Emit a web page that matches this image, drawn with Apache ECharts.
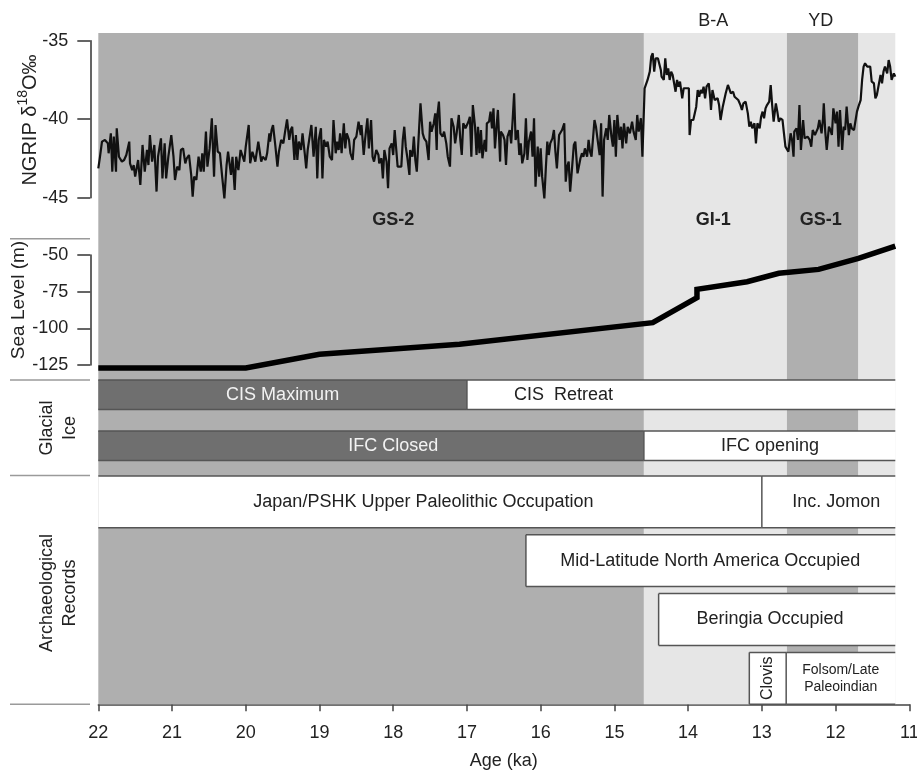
<!DOCTYPE html>
<html>
<head>
<meta charset="utf-8">
<script src="https://cdn.jsdelivr.net/npm/echarts@6.0.0/dist/echarts.min.js"></script>
<style>
  html, body { margin: 0; padding: 0; background: #fff; }
  #main { width: 917px; height: 773px; }
</style>
</head>
<body>
<div id="main"></div>
<script>
// NGRIP d18O record, [age ka, permil]
var ngrip = [
  [22.00,-43.13],[21.98,-42.49],[21.95,-41.43],[21.91,-41.32],[21.87,-41.54],[21.86,-42.17],[21.83,-40.90],[21.81,-43.34],[21.79,-41.11],[21.76,-43.34],
  [21.75,-40.58],[21.72,-42.39],[21.68,-42.70],[21.65,-42.60],[21.62,-42.28],[21.58,-41.43],[21.57,-42.81],[21.54,-43.24],[21.52,-42.92],[21.50,-43.66],
  [21.48,-43.77],[21.46,-42.60],[21.43,-44.19],[21.40,-41.64],[21.37,-43.34],[21.34,-41.96],[21.32,-42.92],[21.30,-41.01],[21.27,-42.70],[21.24,-41.64],
  [21.21,-44.61],[21.19,-42.39],[21.15,-41.22],[21.13,-43.77],[21.10,-41.54],[21.08,-43.77],[21.05,-42.39],[21.01,-41.01],[20.98,-42.39],[20.96,-43.87],
  [20.93,-43.02],[20.90,-43.24],[20.88,-41.96],[20.85,-41.86],[20.82,-42.81],[20.80,-42.49],[20.77,-42.28],[20.74,-43.55],[20.72,-44.93],[20.70,-43.66],
  [20.67,-43.87],[20.64,-42.39],[20.61,-43.34],[20.59,-42.17],[20.57,-43.34],[20.54,-40.79],[20.52,-43.02],[20.49,-41.86],[20.46,-39.94],[20.43,-43.66],
  [20.41,-40.37],[20.38,-42.07],[20.35,-42.17],[20.32,-43.66],[20.29,-45.04],[20.26,-42.92],[20.24,-42.07],[20.20,-43.55],[20.18,-42.39],[20.15,-44.51],
  [20.13,-42.39],[20.10,-43.24],[20.07,-41.96],[20.05,-42.07],[20.02,-42.70],[20.00,-41.75],[19.96,-40.37],[19.94,-42.81],[19.91,-42.07],[19.87,-42.70],
  [19.83,-41.43],[19.79,-42.70],[19.77,-42.39],[19.75,-42.28],[19.73,-42.60],[19.71,-42.17],[19.68,-40.90],[19.67,-41.43],[19.65,-40.69],[19.63,-40.37],
  [19.60,-41.64],[19.57,-43.02],[19.55,-42.07],[19.52,-41.32],[19.49,-41.54],[19.47,-40.90],[19.44,-40.01],[19.41,-41.32],[19.39,-40.69],[19.37,-40.48],
  [19.34,-42.60],[19.32,-41.01],[19.30,-42.60],[19.28,-41.43],[19.25,-41.96],[19.23,-40.90],[19.20,-42.17],[19.18,-43.13],[19.16,-41.96],[19.14,-41.32],
  [19.11,-40.37],[19.08,-42.39],[19.05,-40.48],[19.03,-43.77],[19.01,-41.32],[18.98,-40.58],[18.96,-43.77],[18.94,-41.32],[18.91,-41.75],[18.89,-41.43],
  [18.86,-42.39],[18.83,-42.60],[18.81,-40.05],[18.78,-42.17],[18.76,-41.43],[18.74,-41.96],[18.72,-40.90],[18.70,-42.17],[18.67,-40.26],[18.65,-41.86],
  [18.63,-40.90],[18.60,-41.32],[18.58,-42.17],[18.55,-42.60],[18.53,-41.32],[18.50,-41.11],[18.47,-40.16],[18.44,-41.01],[18.43,-40.37],[18.40,-42.28],
  [18.38,-41.22],[18.35,-39.94],[18.33,-41.86],[18.30,-40.05],[18.28,-42.39],[18.26,-42.70],[18.23,-41.96],[18.20,-42.28],[18.19,-42.81],[18.16,-42.49],
  [18.14,-43.77],[18.12,-41.96],[18.09,-42.70],[18.07,-44.40],[18.05,-41.86],[18.02,-41.54],[18.00,-42.28],[17.98,-40.69],[17.96,-40.58],[17.94,-43.02],
  [17.92,-42.92],[17.89,-43.02],[17.87,-41.32],[17.85,-40.48],[17.83,-41.75],[17.81,-42.39],[17.78,-43.55],[17.77,-41.96],[17.74,-42.39],[17.72,-41.11],
  [17.70,-42.60],[17.68,-43.34],[17.65,-40.69],[17.63,-38.99],[17.60,-40.90],[17.58,-41.22],[17.55,-41.43],[17.52,-42.60],[17.50,-40.16],[17.48,-40.79],
  [17.45,-40.26],[17.43,-39.63],[17.41,-41.96],[17.40,-39.73],[17.38,-38.88],[17.36,-40.90],[17.33,-41.11],[17.31,-40.79],[17.28,-41.54],[17.26,-42.39],
  [17.23,-43.02],[17.21,-39.94],[17.18,-40.48],[17.16,-41.54],[17.14,-40.90],[17.11,-39.73],[17.09,-41.32],[17.07,-42.28],[17.05,-40.26],[17.02,-40.58],
  [17.00,-40.37],[16.98,-40.16],[16.96,-39.84],[16.94,-42.39],[16.92,-39.10],[16.89,-40.48],[16.87,-42.28],[16.85,-40.48],[16.83,-42.17],[16.81,-40.69],
  [16.79,-42.49],[16.76,-41.32],[16.74,-42.07],[16.73,-40.26],[16.70,-40.16],[16.68,-39.52],[16.66,-40.58],[16.64,-39.31],[16.62,-41.86],[16.60,-40.58],
  [16.58,-39.41],[16.55,-42.70],[16.54,-40.79],[16.51,-41.01],[16.49,-41.32],[16.47,-42.92],[16.45,-41.11],[16.42,-40.69],[16.40,-41.54],[16.38,-40.05],
  [16.36,-38.35],[16.34,-41.32],[16.31,-40.69],[16.29,-42.28],[16.27,-41.54],[16.25,-42.81],[16.22,-42.17],[16.20,-39.94],[16.18,-42.60],[16.16,-41.43],
  [16.13,-40.79],[16.11,-42.39],[16.09,-39.94],[16.07,-44.30],[16.04,-41.75],[16.02,-43.66],[16.00,-41.86],[15.98,-43.66],[15.95,-45.04],[15.93,-43.13],
  [15.91,-41.43],[15.89,-42.28],[15.87,-41.54],[15.84,-41.22],[15.82,-40.69],[15.80,-42.07],[15.78,-43.13],[15.75,-41.01],[15.73,-41.11],[15.71,-40.69],
  [15.68,-40.26],[15.66,-43.98],[15.64,-43.02],[15.62,-42.70],[15.60,-44.61],[15.58,-43.45],[15.55,-41.64],[15.53,-41.43],[15.50,-43.45],[15.46,-42.49],
  [15.44,-42.17],[15.42,-42.39],[15.40,-41.86],[15.37,-42.39],[15.35,-41.32],[15.33,-42.07],[15.31,-42.39],[15.27,-40.05],[15.25,-40.48],[15.23,-41.22],
  [15.20,-42.28],[15.18,-40.26],[15.16,-44.93],[15.14,-41.32],[15.11,-40.58],[15.09,-41.32],[15.07,-39.73],[15.04,-41.11],[15.02,-41.75],[15.00,-40.05],
  [14.98,-42.39],[14.96,-39.73],[14.93,-41.32],[14.91,-40.48],[14.89,-41.86],[14.87,-40.26],[14.84,-41.54],[14.82,-40.48],[14.79,-40.90],[14.76,-40.16],
  [14.74,-40.79],[14.71,-41.32],[14.69,-39.73],[14.67,-40.79],[14.64,-39.94],[14.62,-42.39],[14.59,-38.03],[14.55,-37.50],[14.52,-36.97],[14.50,-36.02],
  [14.48,-35.80],[14.46,-36.97],[14.44,-36.12],[14.41,-36.12],[14.39,-36.23],[14.37,-36.87],[14.36,-37.29],[14.33,-37.50],[14.31,-36.12],[14.29,-37.18],
  [14.27,-36.76],[14.25,-37.50],[14.23,-36.97],[14.21,-37.18],[14.19,-37.71],[14.17,-38.25],[14.15,-37.50],[14.13,-37.93],[14.11,-37.61],[14.08,-38.67],
  [14.06,-38.03],[14.04,-38.14],[14.02,-38.03],[13.99,-38.03],[13.98,-41.01],[13.96,-40.05],[13.93,-40.05],[13.91,-39.94],[13.89,-39.20],[13.87,-38.14],
  [13.85,-38.57],[13.83,-38.14],[13.81,-38.35],[13.79,-37.93],[13.77,-38.67],[13.75,-37.93],[13.72,-37.71],[13.70,-38.67],[13.69,-39.41],[13.67,-38.14],
  [13.64,-38.78],[13.62,-38.88],[13.60,-38.67],[13.58,-39.10],[13.56,-40.05],[13.53,-39.20],[13.51,-38.78],[13.49,-38.35],[13.46,-37.82],[13.44,-37.71],
  [13.42,-38.35],[13.39,-38.25],[13.37,-38.57],[13.35,-38.46],[13.32,-38.78],[13.29,-39.10],[13.27,-39.41],[13.25,-38.99],[13.22,-38.88],[13.19,-39.63],
  [13.17,-40.47],[13.15,-40.16],[13.13,-40.58],[13.10,-40.26],[13.08,-41.54],[13.06,-40.26],[13.03,-40.58],[13.01,-39.84],[12.99,-39.52],[12.97,-39.94],
  [12.95,-39.31],[12.93,-39.10],[12.90,-38.88],[12.88,-37.82],[12.86,-39.10],[12.84,-40.16],[12.81,-38.99],[12.79,-39.52],[12.77,-40.16],[12.75,-39.94],
  [12.72,-40.05],[12.70,-40.90],[12.68,-41.75],[12.66,-41.75],[12.64,-42.07],[12.61,-40.90],[12.59,-41.32],[12.57,-42.39],[12.56,-40.79],[12.53,-40.58],
  [12.51,-41.32],[12.49,-39.10],[12.47,-41.96],[12.44,-40.05],[12.42,-41.22],[12.40,-41.22],[12.38,-41.11],[12.35,-41.32],[12.33,-41.75],[12.31,-40.69],
  [12.28,-41.01],[12.26,-40.79],[12.24,-40.58],[12.22,-40.05],[12.19,-40.90],[12.17,-39.94],[12.16,-38.99],[12.14,-40.79],[12.12,-41.96],[12.09,-40.47],
  [12.07,-40.69],[12.05,-41.01],[12.03,-39.31],[12.00,-40.26],[11.98,-39.52],[11.96,-41.75],[11.94,-39.41],[11.91,-41.96],[11.89,-40.47],[11.87,-40.69],
  [11.85,-39.20],[11.82,-41.01],[11.80,-40.26],[11.78,-40.58],[11.75,-40.69],[11.73,-40.79],[11.71,-39.52],[11.69,-39.20],[11.66,-38.78],[11.64,-37.50],
  [11.62,-36.65],[11.60,-36.44],[11.57,-36.65],[11.55,-36.76],[11.53,-36.65],[11.51,-37.61],[11.48,-37.71],[11.46,-38.67],[11.44,-38.46],[11.42,-38.35],
  [11.39,-37.18],[11.37,-37.71],[11.35,-36.97],[11.33,-36.65],[11.30,-37.08],[11.28,-36.23],[11.26,-36.65],[11.24,-37.50],[11.21,-37.08],[11.19,-37.29]
];

// sea level curve
var seaAge   = [22, 20, 19, 17.1, 14.48, 13.88, 13.88, 13.2, 12.77, 12.23, 11.69, 11.19];
var seaLevel = [-127, -127, -117.7, -110.9, -96.1, -79.1, -73.4, -68.2, -62.5, -59.8, -52.3, -43.9];

// climate periods (background shading)
var periodName     = ['GS-2', 'GI-1', 'GS-1', ''];
var periodEvent    = ['', 'B-A', 'YD', ''];
var periodStart    = [22, 14.6, 12.66, 11.69];
var periodEnd      = [14.6, 12.66, 11.69, 11.19];
var periodCold     = [1, 0, 1, 0];
var periodLabelAge = [18.0, 13.66, 12.2, 11.45];

// glacial ice bars
var iceLabel    = ['CIS Maximum', 'CIS  Retreat', 'IFC Closed', 'IFC opening'];
var iceStart    = [22, 17, 22, 14.6];
var iceEnd      = [17, 11.19, 14.6, 11.19];
var iceRow      = [0, 0, 1, 1];
var iceClosed   = [1, 0, 1, 0];
var iceLabelAge = [19.5, 15.69, 18.0, 12.89];

// archaeological records bars
var archLabel    = ['Japan/PSHK Upper Paleolithic Occupation', 'Inc. Jomon', 'Mid-Latitude North America Occupied',
                    'Beringia Occupied', 'Clovis', 'Folsom/Late\nPaleoindian'];
var archStart    = [22, 13, 16.2, 14.4, 13.17, 12.67];
var archEnd      = [13, 11.19, 11.19, 11.19, 12.67, 11.19];
var archRow      = [0, 0, 1, 2, 3, 3];
var archLabelAge = [17.59, 11.99, 13.70, 12.89, 12.92, 11.93];

var FONT = 'Liberation Sans, Arial, Helvetica, sans-serif';
var labelStyle = {
  'Clovis': { fontSize: 16, rotation: Math.PI / 2 },
  'Folsom/Late\nPaleoindian': { fontSize: 14, lineHeight: 17 }
};

var chart = echarts.init(document.getElementById('main'));

var L = 98.3, W = 811;
function xAx(i, show) {
  return {
    type: 'value', gridIndex: i, min: 11, max: 22, interval: 1, inverse: true,
    show: show, offset: show ? 7 : 0,
    axisLine: { show: true, lineStyle: { color: '#444', width: 1.5 } },
    axisTick: { show: true, length: 7, lineStyle: { color: '#444', width: 1.5 } },
    axisLabel: { fontSize: 18, color: '#222', margin: 13, fontFamily: FONT },
    splitLine: { show: false },
    name: show ? 'Age (ka)' : '', nameLocation: 'middle', nameGap: 41, nameMoveOverlap: false,
    nameTextStyle: { fontSize: 18, color: '#222', fontFamily: FONT }
  };
}
function yAx(i, min, max, interval) {
  if (min === undefined) {
    return { type: 'value', gridIndex: i, min: 0, max: 1, show: false };
  }
  return {
    type: 'value', gridIndex: i, min: min, max: max, interval: interval, offset: 8,
    axisLine: { show: true, lineStyle: { color: '#333', width: 1.5 } },
    axisTick: { show: true, length: 13, lineStyle: { color: '#333', width: 1.5 } },
    axisLabel: { fontSize: 18, color: '#222', margin: 22, fontFamily: FONT },
    splitLine: { show: false }
  };
}

function bandRenderer(starts, ends, rows, labels, labelAges, dark, pitch, height) {
  return function (params, api) {
    var i = params.dataIndex;
    var cs = params.coordSys;
    var xa = api.coord([starts[i], 0])[0];
    var xb = api.coord([ends[i], 0])[0];
    var y0 = cs.y + rows[i] * pitch;
    var y1 = y0 + height;
    var kids = [
      { type: 'rect', shape: { x: xa, y: y0, width: xb - xa, height: height },
        style: { fill: dark[i] ? '#6f6f6f' : '#ffffff' } },
      { type: 'line', shape: { x1: xa, y1: y0, x2: xb, y2: y0 }, style: { stroke: '#555', lineWidth: 1.5 } },
      { type: 'line', shape: { x1: xa, y1: y1, x2: xb, y2: y1 }, style: { stroke: '#555', lineWidth: 1.5 } }
    ];
    if (starts[i] < 22) {
      kids.push({ type: 'line', shape: { x1: xa, y1: y0, x2: xa, y2: y1 }, style: { stroke: '#555', lineWidth: 1.5 } });
    }
    var ls = labelStyle[labels[i]] || {};
    kids.push({
      type: 'text',
      x: api.coord([labelAges[i], 0])[0], y: (y0 + y1) / 2,
      rotation: ls.rotation || 0,
      style: {
        text: labels[i], fill: dark[i] ? '#f2f2f2' : '#222',
        fontSize: ls.fontSize || 18, lineHeight: ls.lineHeight || 20, fontFamily: FONT,
        align: 'center', verticalAlign: 'middle'
      }
    });
    return { type: 'group', children: kids };
  };
}

var option = {
  animation: false,
  backgroundColor: '#ffffff',
  grid: [
    { left: L, width: W, top: 40.7, height: 157, outerBoundsMode: 'none' },
    { left: L, width: W, top: 255, height: 110, outerBoundsMode: 'none' },
    { left: L, width: W, top: 33, height: 671.3, outerBoundsMode: 'none' },
    { left: L, width: W, top: 380, height: 96, outerBoundsMode: 'none' },
    { left: L, width: W, top: 476, height: 228.3, outerBoundsMode: 'none' }
  ],
  xAxis: [xAx(0, false), xAx(1, false), xAx(2, true), xAx(3, false), xAx(4, false)],
  yAxis: [yAx(0, -45, -35, 5), yAx(1, -125, -50, 25), yAx(2), yAx(3), yAx(4)],
  graphic: [
    { type: 'line', shape: { x1: 10, y1: 238.7, x2: 90, y2: 238.7 }, style: { stroke: '#9a9a9a', lineWidth: 1.5 } },
    { type: 'line', shape: { x1: 10, y1: 380, x2: 90, y2: 380 }, style: { stroke: '#9a9a9a', lineWidth: 1.5 } },
    { type: 'line', shape: { x1: 10, y1: 475.5, x2: 90, y2: 475.5 }, style: { stroke: '#9a9a9a', lineWidth: 1.5 } },
    { type: 'line', shape: { x1: 10, y1: 704.3, x2: 90, y2: 704.3 }, style: { stroke: '#9a9a9a', lineWidth: 1.5 } },
    { type: 'text', x: 28, y: 120, rotation: Math.PI / 2,
      style: { text: '{n|NGRIP δ}{s|18}{n|O‰}', align: 'center', verticalAlign: 'middle',
        rich: { n: { fontSize: 20, lineHeight: 24, fontFamily: FONT, fill: '#222', verticalAlign: 'bottom' },
                s: { fontSize: 14, lineHeight: 14, fontFamily: FONT, fill: '#222', verticalAlign: 'top' } } } },
    { type: 'text', x: 19, y: 300, rotation: Math.PI / 2,
      style: { text: 'Sea Level (m)', fontSize: 19, fontFamily: FONT, fill: '#222', align: 'center', verticalAlign: 'middle' } },
    { type: 'text', x: 58.5, y: 428, rotation: Math.PI / 2,
      style: { text: 'Glacial\nIce', fontSize: 18, lineHeight: 23, fontFamily: FONT, fill: '#222', align: 'center', verticalAlign: 'middle' } },
    { type: 'text', x: 58.5, y: 593, rotation: Math.PI / 2,
      style: { text: 'Archaeological\nRecords', fontSize: 18, lineHeight: 23, fontFamily: FONT, fill: '#222', align: 'center', verticalAlign: 'middle' } }
  ],
  series: [
    {
      type: 'custom', xAxisIndex: 2, yAxisIndex: 2, z: 1, silent: true,
      data: periodStart.map(function (s, i) { return [s, periodEnd[i], i]; }),
      renderItem: function (params, api) {
        var i = params.dataIndex;
        var cs = params.coordSys;
        var xa = api.coord([periodStart[i], 0])[0];
        var xb = api.coord([periodEnd[i], 0])[0];
        var xl = api.coord([periodLabelAge[i], 0])[0];
        return {
          type: 'group', children: [
            { type: 'rect', shape: { x: xa, y: cs.y, width: xb - xa, height: cs.height },
              style: { fill: periodCold[i] ? '#afafaf' : '#e6e6e6' } },
            { type: 'text', x: xl, y: 220,
              style: { text: periodName[i], fontSize: 18, fontWeight: 'bold', fontFamily: FONT, fill: '#222', align: 'center', verticalAlign: 'middle' } },
            { type: 'text', x: xl, y: 20.7,
              style: { text: periodEvent[i], fontSize: 18, fontFamily: FONT, fill: '#222', align: 'center', verticalAlign: 'middle' } }
          ]
        };
      }
    },
    {
      type: 'custom', xAxisIndex: 3, yAxisIndex: 3, z: 3, silent: true,
      data: iceStart.map(function (s, i) { return [s, iceEnd[i], iceRow[i]]; }),
      renderItem: bandRenderer(iceStart, iceEnd, iceRow, iceLabel, iceLabelAge, iceClosed, 51, 29.5)
    },
    {
      type: 'custom', xAxisIndex: 4, yAxisIndex: 4, z: 3, silent: true,
      data: archStart.map(function (s, i) { return [s, archEnd[i], archRow[i]]; }),
      renderItem: bandRenderer(archStart, archEnd, archRow, archLabel, archLabelAge, [0, 0, 0, 0, 0, 0], 58.8, 51.8)
    },
    {
      type: 'line', xAxisIndex: 0, yAxisIndex: 0, z: 5, clip: false, silent: true,
      symbol: 'none', data: ngrip,
      lineStyle: { color: '#111', width: 2.2 }
    },
    {
      type: 'line', xAxisIndex: 1, yAxisIndex: 1, z: 5, clip: false, silent: true,
      symbol: 'none', data: seaAge.map(function (a, i) { return [a, seaLevel[i]]; }),
      lineStyle: { color: '#000', width: 5.5, join: 'miter' }
    }
  ]
};
chart.setOption(option);
</script>
</body>
</html>
